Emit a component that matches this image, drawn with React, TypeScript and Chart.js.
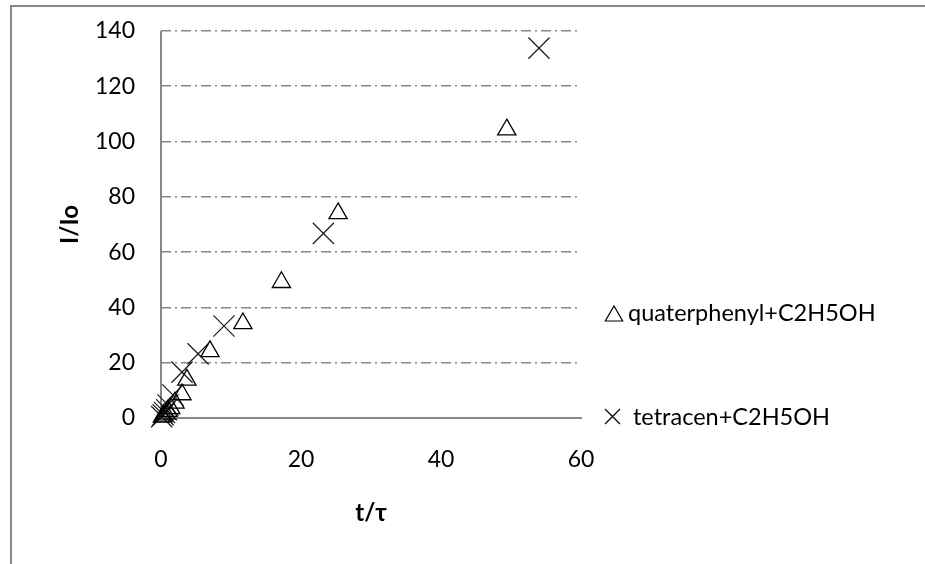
import { useEffect, useRef } from 'react';
import { Chart, registerables } from 'chart.js';
import { drawPoint } from 'chart.js/helpers';

Chart.register(...registerables);

// ---- data ----
const quaterphenylX = [0.2, 0.4, 0.7, 1.0, 1.4, 2.0, 3.0, 3.7, 7.0, 11.7, 17.2, 25.3, 49.4];
const quaterphenylY = [0.4, 0.8, 1.5, 2.5, 3.5, 5.5, 8.5, 13.8, 24.1, 34.2, 49.1, 74.0, 104.3];
const tetracenX = [0.1, 0.3, 0.5, 0.8, 1.0, 1.7, 3.0, 5.3, 9.0, 23.2, 54.0];
const tetracenY = [0.5, 1.2, 2.0, 3.0, 4.7, 8.3, 16.6, 23.2, 33.3, 66.8, 133.8];
const seriesLabels = ['quaterphenyl+C2H5OH', 'tetracen+C2H5OH'];
const xTickValues = [0, 20, 40, 60];
const yTickValues = [0, 20, 40, 60, 80, 100, 120, 140];
const xTitle = 't/\u03C4';
const yTitle = 'I/Io';

const FONT = 'Lato, "Open Sans", "DejaVu Sans", sans-serif';
const AXIS_GRAY = '#878787';

const toPoints = (xs: number[], ys: number[]) => xs.map((x, i) => ({ x, y: ys[i] }));

const legendRows = [0.7287, 0.9961];
const legendRadius = [10, 10.6];

const sideLegend = {
  id: 'sideLegend',
  afterDraw(chart: any) {
    const { ctx, chartArea } = chart;
    const h = chartArea.bottom - chartArea.top;
    chart.data.datasets.forEach((ds: any, i: number) => {
      const textMid = chartArea.top + h * legendRows[i];
      const style = ds.pointStyle;
      const r = legendRadius[i];
      const cx = chartArea.right + (style === 'triangle' ? 33 : 31.5);
      const cy = style === 'triangle' ? textMid + r / 4 + 0.5 : textMid;
      ctx.save();
      ctx.strokeStyle = '#000';
      ctx.fillStyle = 'rgba(0,0,0,0)';
      ctx.lineWidth = 1.2;
      drawPoint(ctx, { pointStyle: style, radius: r, borderWidth: 1.2, rotation: 0 } as any, cx, cy);
      ctx.restore();
      ctx.save();
      ctx.fillStyle = '#000';
      ctx.font = `23.5px ${FONT}`;
      ctx.textBaseline = 'alphabetic';
      ctx.textAlign = 'left';
      ctx.fillText(ds.label, chartArea.right + (style === 'triangle' ? 47 : 52), textMid + 8.3);
      ctx.restore();
    });
  },
};

export default function App() {
  const canvasRef = useRef<HTMLCanvasElement | null>(null);

  useEffect(() => {
    if (!canvasRef.current) return;
    const chart = new Chart(canvasRef.current, {
      type: 'scatter',
      data: {
        datasets: [
          {
            label: seriesLabels[0],
            data: toPoints(quaterphenylX, quaterphenylY),
            pointStyle: 'triangle',
            pointRadius: 10.5,
            pointHoverRadius: 10.5,
            borderColor: '#000',
            backgroundColor: 'rgba(0,0,0,0)',
            borderWidth: 1.3,
            clip: false as any,
          },
          {
            label: seriesLabels[1],
            data: toPoints(tetracenX, tetracenY),
            pointStyle: 'crossRot',
            pointRadius: 15,
            pointHoverRadius: 15,
            borderColor: '#1a1a1a',
            backgroundColor: 'rgba(0,0,0,0)',
            borderWidth: 1.2,
            clip: false as any,
          },
        ],
      },
      options: {
        animation: false,
        responsive: true,
        maintainAspectRatio: false,
        devicePixelRatio: 1,
        layout: { padding: { left: 0, top: 31, right: 344, bottom: 0 } },
        plugins: {
          legend: { display: false },
          tooltip: { enabled: false },
        },
        scales: {
          x: {
            type: 'linear',
            min: 0,
            max: 60,
            afterBuildTicks: (s: any) => {
              s.ticks = xTickValues.map((v) => ({ value: v }));
            },
            afterFit: (s: any) => {
              s.height = 146;
            },
            ticks: {
              color: '#000',
              font: { family: FONT, size: 23 },
              padding: 28,
              maxRotation: 0,
            },
            grid: {
              drawTicks: false,
              color: (c: any) => (c.tick && c.tick.value === 0 ? AXIS_GRAY : 'rgba(0,0,0,0)'),
              lineWidth: 2,
            },
            border: { display: true, color: AXIS_GRAY, width: 2 },
            title: {
              display: true,
              text: xTitle,
              color: '#000',
              font: { family: FONT, size: 24, weight: 'bold' },
              padding: { top: 0, bottom: 36 },
            },
          },
          y: {
            type: 'linear',
            min: 0,
            max: 140,
            afterBuildTicks: (s: any) => {
              s.ticks = yTickValues.map((v) => ({ value: v }));
            },
            afterFit: (s: any) => {
              s.width = 161;
              s.paddingTop = 14;
              s.paddingBottom = 14;
            },
            ticks: {
              color: '#000',
              font: { family: FONT, size: 23 },
              padding: 26,
            },
            grid: {
              drawTicks: false,
              color: (c: any) => (c.tick && c.tick.value === 0 ? 'rgba(0,0,0,0)' : AXIS_GRAY),
              lineWidth: 1.6,
            },
            border: { display: false, dash: [10, 4, 2, 4] },
            title: {
              display: true,
              text: yTitle,
              color: '#000',
              font: { family: FONT, size: 24, weight: 'bold' },
              padding: { top: 56, bottom: 0 },
            },
          },
        },
      },
      plugins: [sideLegend],
    });
    return () => chart.destroy();
  }, []);

  return (
    <div
      style={{
        position: 'absolute',
        left: 0,
        top: 0,
        width: 925,
        height: 564,
        overflow: 'hidden',
        background: '#fff',
      }}
    >
      <div
        style={{
          position: 'absolute',
          left: 10,
          top: 5,
          width: 940,
          height: 600,
          borderLeft: `2.5px solid ${AXIS_GRAY}`,
          borderTop: `2.5px solid ${AXIS_GRAY}`,
          boxSizing: 'border-box',
        }}
      />
      <canvas ref={canvasRef} style={{ position: 'absolute', left: 0, top: 0, width: 925, height: 564 }} />
    </div>
  );
}
